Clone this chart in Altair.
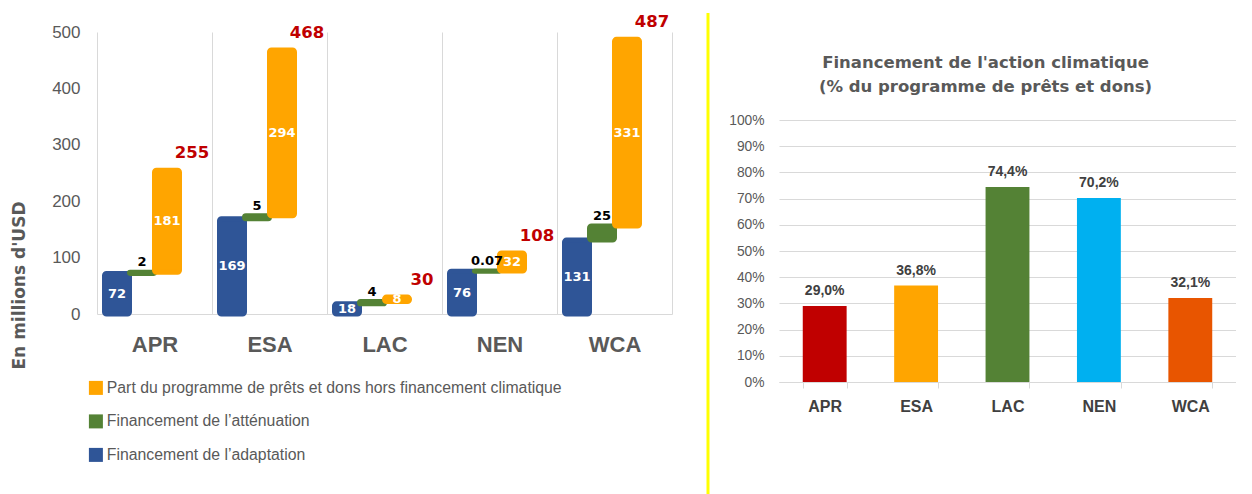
import altair as alt
import pandas as pd

# ---------------- data ----------------
regions = ["APR", "ESA", "LAC", "NEN", "WCA"]
adaptation = [72, 169, 18, 76, 131]
attenuation = [2, 5, 4, 0.07, 25]
hors_climat = [181, 294, 8, 32, 331]
totals = [255, 468, 30, 108, 487]
adaptation_labels = ["72", "169", "18", "76", "131"]
attenuation_labels = ["2", "5", "4", "0.07", "25"]
hors_labels = ["181", "294", "8", "32", "331"]
total_labels = ["255", "468", "30", "108", "487"]

pct_climat = [29.0, 36.8, 74.4, 70.2, 32.1]
pct_colors = ["#C00000", "#FFA500", "#548235", "#00B0F0", "#E85500"]

S_PART = "Part du programme de prêts et dons hors financement climatique"
S_ATT = "Financement de l’atténuation"
S_ADA = "Financement de l’adaptation"
S_TOT = "Total"

rows = []
for i, r in enumerate(regions):
    a, m, p = adaptation[i], attenuation[i], hors_climat[i]
    rows.append(dict(region=r, series=S_ADA, y0=0, y1=a, label=adaptation_labels[i]))
    rows.append(dict(region=r, series=S_ATT, y0=a, y1=a + m, label=attenuation_labels[i]))
    rows.append(dict(region=r, series=S_PART, y0=a + m, y1=a + m + p, label=hors_labels[i]))
    rows.append(dict(region=r, series=S_TOT, y0=totals[i], y1=totals[i], label=total_labels[i]))
df = pd.DataFrame(rows)
df["mid"] = (df["y0"] + df["y1"]) / 2

df2 = pd.DataFrame(dict(
    region=regions,
    pct=[v / 100 for v in pct_climat],
    label=[f"{v:.1f}".replace(".", ",") + "%" for v in pct_climat],
))

GRAY = "#595959"
YTITLE = "En millions d'USD"

# ---------------- left chart ----------------
x_enc = alt.X(
    "region:N", sort=regions,
    scale=alt.Scale(paddingInner=0, paddingOuter=0),
    axis=alt.Axis(title=None, grid=True, gridColor="#D9D9D9", tickBand="extent", ticks=False,
                  domainColor="#D9D9D9", labelFont="Liberation Sans", labelFontWeight="bold",
                  labelFontSize=22, labelColor=GRAY, labelPadding=20, labelAngle=0),
)
xo_enc = alt.XOffset(
    "series:N",
    scale=alt.Scale(domain=[S_ADA, S_ATT, S_PART, S_TOT], paddingInner=0, paddingOuter=0.3),
)
y_axis = alt.Axis(values=[0, 100, 200, 300, 400, 500], grid=False, domain=False, ticks=False,
                  labelFont="Liberation Sans", labelFontSize=17, labelColor=GRAY, labelPadding=17,
                  titleFont="DejaVu Sans", titleFontSize=17, titleFontWeight="bold",
                  titleColor=GRAY, titleX=-78, titleY=253, titleBaseline="middle")
y_scale = alt.Scale(domain=[0, 500], nice=False)

color_enc = alt.Color(
    "series:N",
    scale=alt.Scale(domain=[S_PART, S_ATT, S_ADA], range=["#FFA500", "#548235", "#2F5597"]),
    legend=alt.Legend(title=None, orient="none", legendX=-9, legendY=348, direction="vertical",
                      symbolType="square", symbolSize=196, symbolStrokeWidth=0, symbolOpacity=1,
                      labelFont="Liberation Sans", labelFontSize=15.8, labelColor=GRAY,
                      labelOffset=3, rowPadding=16.5, padding=0, labelLimit=600),
)

base = alt.Chart(df).encode(x=x_enc, xOffset=xo_enc)

bars = base.transform_filter(
    alt.FieldOneOfPredicate(field="series", oneOf=[S_ADA, S_ATT, S_PART])
).mark_bar(width=25, cornerRadius=2, strokeWidth=5).encode(
    y=alt.Y("y0:Q", scale=y_scale, axis=y_axis, title=YTITLE),
    y2="y1:Q",
    color=color_enc,
    stroke=alt.Stroke("series:N", scale=alt.Scale(domain=[S_PART, S_ATT, S_ADA],
                                                 range=["#FFA500", "#548235", "#2F5597"]),
                      legend=None),
)
inner_labels = base.transform_filter(
    alt.FieldOneOfPredicate(field="series", oneOf=[S_ADA, S_PART])
).mark_text(font="DejaVu Sans", fontWeight="bold", fontSize=13, color="white",
            baseline="middle").encode(
    y=alt.Y("mid:Q", scale=y_scale, title=YTITLE),
    text="label:N",
)
green_labels = base.transform_filter(
    alt.FieldEqualPredicate(field="series", equal=S_ATT)
).mark_text(font="DejaVu Sans", fontWeight="bold", fontSize=13, color="black",
            baseline="middle", dy=-10).encode(
    y=alt.Y("y1:Q", scale=y_scale, title=YTITLE),
    text="label:N",
)
total_text = base.transform_filter(
    alt.FieldEqualPredicate(field="series", equal=S_TOT)
).mark_text(font="DejaVu Sans", fontWeight="bold", fontSize=16.5, color="#C00000",
            baseline="middle", dy=-17).encode(
    y=alt.Y("y1:Q", scale=y_scale, title=YTITLE),
    text="label:N",
)
yellow = alt.Chart(pd.DataFrame({"k": [0]})).mark_rule(color="#FFFF00", strokeWidth=3).encode(
    x=alt.value(611), y=alt.value(-19), y2=alt.value(462)
)

left = alt.layer(bars, inner_labels, green_labels, total_text, yellow).properties(
    width=575, height=282
)

# ---------------- right chart ----------------
x2 = alt.X(
    "region:N", sort=regions,
    scale=alt.Scale(paddingInner=0.52, paddingOuter=0.26),
    axis=alt.Axis(title=None, labelAngle=0, tickBand="extent", ticks=True, tickColor="#D9D9D9",
                  tickSize=6, domainColor="#D9D9D9", labelFont="Liberation Sans",
                  labelFontWeight="bold", labelFontSize=16, labelColor="#404040",
                  labelPadding=10, grid=False),
)
y2 = alt.Y(
    "pct:Q", scale=alt.Scale(domain=[0, 1], nice=False),
    axis=alt.Axis(title=None, format=".0%", values=[i / 10 for i in range(11)], grid=True,
                  gridColor="#D9D9D9", domain=False, ticks=False, labelFont="Liberation Sans",
                  labelFontSize=13.8, labelColor=GRAY, labelPadding=15),
)
bars2 = alt.Chart(df2).mark_bar().encode(
    x=x2, y=y2,
    color=alt.Color("region:N", scale=alt.Scale(domain=regions, range=pct_colors), legend=None),
)
text2 = alt.Chart(df2).mark_text(dy=-8, baseline="bottom", font="Liberation Sans",
                                 fontWeight="bold", fontSize=14, color="#404040").encode(
    x=x2, y=y2, text="label:N"
)

right = alt.layer(bars2, text2).properties(
    width=457, height=262,
    title=alt.TitleParams(
        ["Financement de l'action climatique", "(% du programme de prêts et dons)"],
        font="DejaVu Sans", fontSize=16.5, fontWeight="bold", color=GRAY,
        anchor="middle", frame="group", offset=18, lineHeight=24, dx=-22,
    ),
)

spacer = alt.Chart(pd.DataFrame({"k": [0]})).mark_point(opacity=0).encode(
    x=alt.value(0), y=alt.value(0)
).properties(width=457, height=22)

right_col = alt.vconcat(spacer, right, spacing=0)

chart = alt.hconcat(left, right_col, spacing=18).resolve_scale(
    x="independent", y="independent", color="independent"
).properties(
    padding={"left": 2, "top": 3, "right": 0, "bottom": 0}
).configure_view(stroke=None)

chart.save("out.html", embed_options={"renderer": "svg", "actions": False})
